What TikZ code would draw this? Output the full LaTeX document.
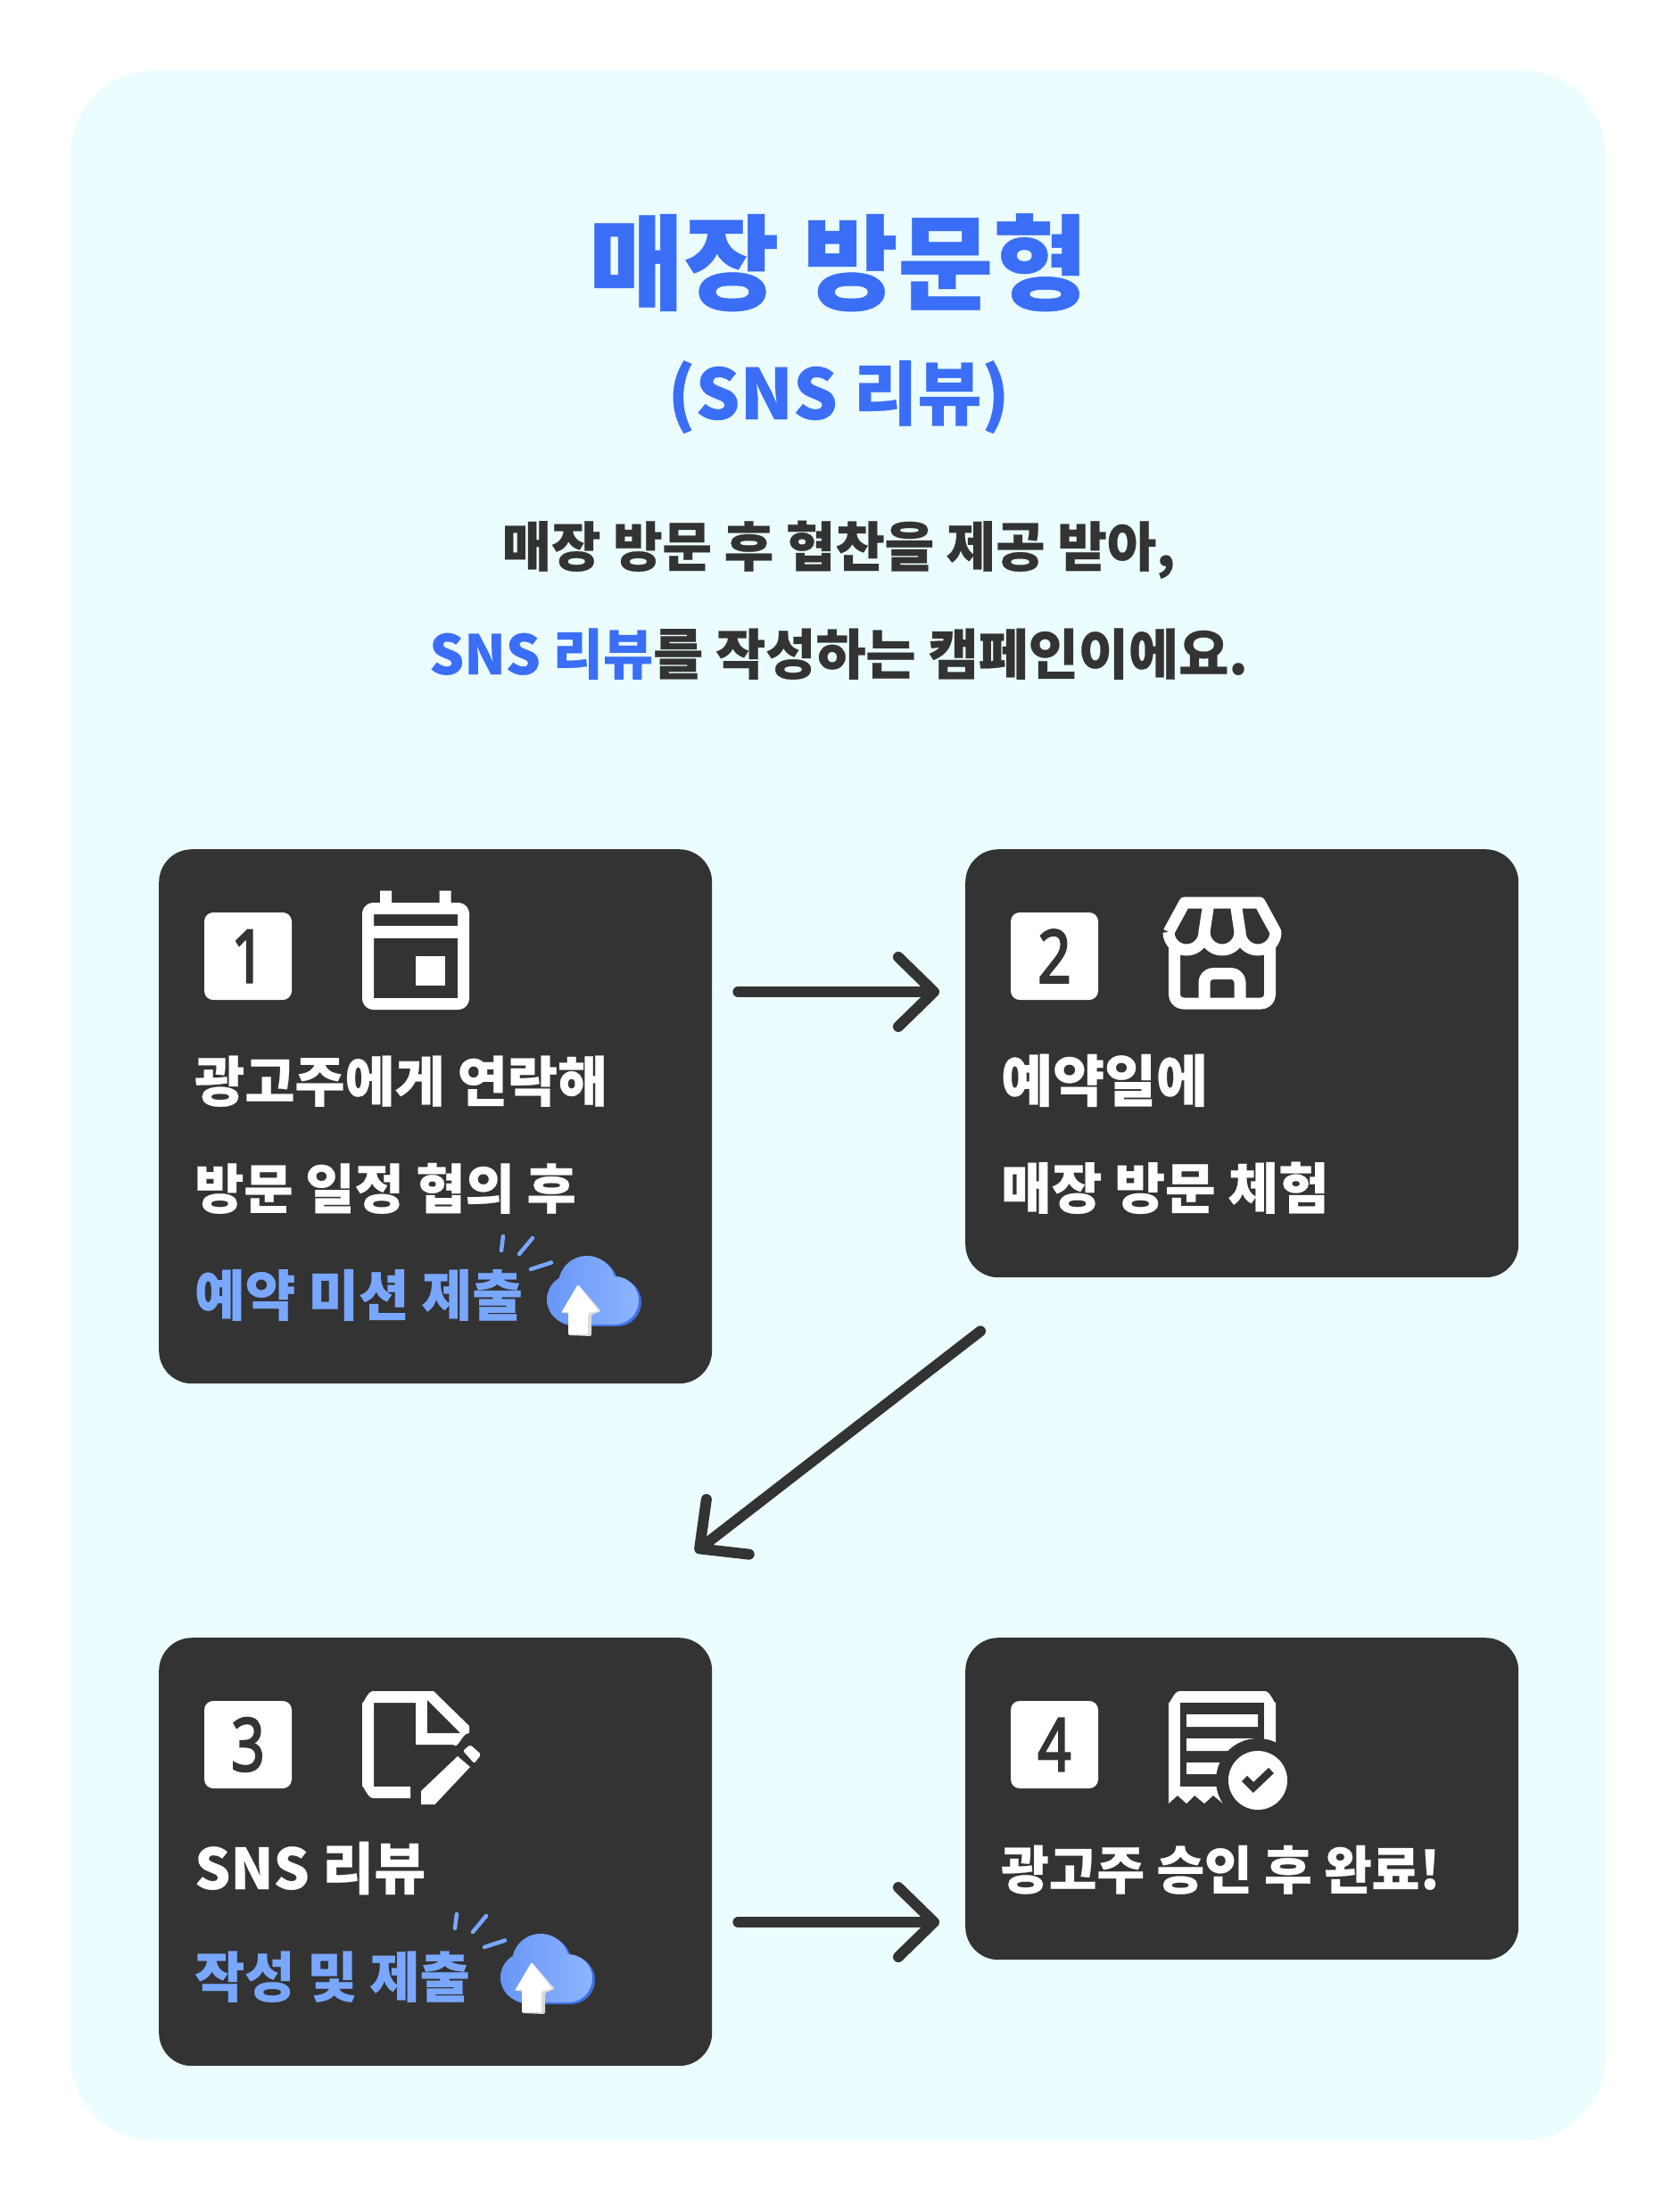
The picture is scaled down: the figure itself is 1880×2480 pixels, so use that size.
\documentclass[tikz,border=0pt]{standalone}
\usepackage{fontspec}
\usetikzlibrary{arrows.meta,calc}
\newfontfamily\krblack[FakeBold=0.4]{Noto Sans CJK KR Black}
\newfontfamily\numfont[FakeBold=3]{Noto Sans}
\definecolor{panelbg}{HTML}{EBFDFF}
\definecolor{cardbg}{HTML}{333333}
\definecolor{titleblue}{HTML}{3A6EF6}
\definecolor{softblue}{HTML}{79A7FF}
\definecolor{clouddark}{HTML}{3F6FE2}
\newcommand{\fs}[1]{\fontsize{#1}{#1}\selectfont}
\newcommand{\numglyph}[1]{\scalebox{0.8}[1]{#1}}
\tikzset{
  cardbox/.style={draw=none,fill=cardbg,rounded corners=37pt,inner sep=0pt,anchor=north west},
  tilebox/.style={fill=white,rounded corners=10pt,minimum width=98pt,minimum height=98pt,inner sep=0pt,text=cardbg,font=\numfont\fs{82}},
  bodytext/.style={anchor=base west,inner sep=0pt,text=white,font=\krblack\fs{60}},
  softtext/.style={bodytext,text=softblue},
  headtext/.style={anchor=base,inner sep=0pt,font=\krblack},
  flow/.style={draw=cardbg,line width=12pt,line cap=round,line join=round,-{Straight Barb[length=40pt,width=78pt,round]}},
  iconline/.style={draw=white,line width=13pt,line join=round},
  iconfill/.style={fill=white,draw=none},
  cloudicon/.pic={
    \draw[softblue,line width=4.5pt,line cap=round] (564,1386)--(562,1402) (597,1388)--(582,1406) (618,1415.5)--(595,1423);
    \fill[clouddark,shift={(3,2)}] (641,1457) circle[radius=28] (658,1440) circle[radius=32] (689,1458) circle[radius=27] (641,1455) -- (689,1455) -- (689,1485) -- (641,1485) -- cycle;
    \path[left color=softblue!70!clouddark,right color=softblue!85!white] (641,1457) circle[radius=28] (658,1440) circle[radius=32] (689,1458) circle[radius=27] (641,1455) -- (689,1455) -- (689,1485) -- (641,1485) -- cycle;
    \fill[black!14,rounded corners=2pt] (629,1472) -- (648,1440) -- (674,1470) -- (663,1474) -- (663,1498) -- (637,1497) -- (637,1472) -- cycle;
    \fill[white,rounded corners=2pt] (629,1472) -- (648,1440) -- (671,1470) -- (659,1472) -- (659,1496) -- (637,1496) -- (637,1470) -- cycle;
  }
}
\begin{document}
\begin{tikzpicture}[x=1pt,y=-1pt]
\useasboundingbox (0,0) rectangle (1880,2480);
\fill[white] (0,0) rectangle (1880,2480);
\fill[panelbg,rounded corners=95pt] (79,79) rectangle (1800,2400);

% headings
\node[headtext,text=titleblue,font=\krblack\fs{116}] (title) at (940,338) {매장 방문형};
\node[headtext,text=titleblue,font=\krblack\fs{78}] (subtitle) at (940,470) {(SNS 리뷰)};
\node[headtext,text=cardbg,font=\krblack\fs{60.2}] (intro1) at (940,635) {매장 방문 후 협찬을 제공 받아,};
\node[headtext,text=cardbg,font=\krblack\fs{61}] (intro2) at (940,756) {\textcolor{titleblue}{SNS 리뷰}를 작성하는 캠페인이에요.};

% cards
\node[cardbox,minimum width=620pt,minimum height=599pt] (card1) at (178,952) {};
\node[cardbox,minimum width=620pt,minimum height=480pt] (card2) at (1082,952) {};
\node[cardbox,minimum width=620pt,minimum height=480pt] (card3) at (178,1836) {};
\node[cardbox,minimum width=620pt,minimum height=361pt] (card4) at (1082,1836) {};

% number tiles
\node[tilebox] (tile1) at (278,1072) {\numglyph{1}};
\node[tilebox] (tile2) at (1182,1072) {\numglyph{2}};
\node[tilebox] (tile3) at (278,1956) {\numglyph{3}};
\node[tilebox] (tile4) at (1182,1956) {\numglyph{4}};

% texts
\node[bodytext,font=\krblack\fs{61}] (t1a) at (218,1235) {광고주에게 연락해};
\node[bodytext] (t1b) at (218,1355) {방문 일정 협의 후};
\node[softtext,font=\krblack\fs{61.5}] (t1c) at (218,1475) {예약 미션 제출};
\node[bodytext,font=\krblack\fs{63}] (t2a) at (1122,1235) {예약일에};
\node[bodytext,font=\krblack\fs{61.5}] (t2b) at (1122,1355) {매장 방문 체험};
\node[bodytext,font=\krblack\fs{63}] (t3a) at (218,2118) {SNS 리뷰};
\node[softtext,font=\krblack\fs{61}] (t3b) at (218,2239) {작성 및 제출};
\node[bodytext,font=\krblack\fs{58.3}] (t4a) at (1122,2118) {광고주 승인 후 완료!};

% calendar icon
\draw[iconline,rounded corners=6pt] (412.5,1018.5) rectangle (519.5,1125.5);
\fill[white] (406,1038) rectangle (526,1051.5);
\fill[white] (426,998.5) rectangle (439,1014) (492.5,998.5) rectangle (505.5,1014);
\fill[white] (466,1072) rectangle (499,1105);

% store icon
\draw[iconline] (1310,1045) -- (1328,1012) -- (1412,1012) -- (1430,1045)
  arc[start angle=0,end angle=180,radius=20]
  arc[start angle=0,end angle=180,radius=20]
  arc[start angle=0,end angle=180,radius=20];
\draw[iconline] (1355,1012) -- (1350,1045) (1385,1012) -- (1390,1045);
\draw[iconline,rounded corners=10pt] (1316.5,1058) -- (1316.5,1125) -- (1423.5,1125) -- (1423.5,1058);
\draw[iconline,rounded corners=10pt] (1350,1125) -- (1350,1091.5) -- (1390,1091.5) -- (1390,1125);

% document icon
\fill[white] (460,2016) -- (418,2016) to[out=180,in=90] (406,2004) -- (406,1908) to[out=-90,in=180] (418,1896)
  -- (486,1896) -- (526,1935) -- (526,1943) to[out=180,in=-50] (508,1956) -- (466,1956) -- (466,1909) -- (419,1909) -- (419,2003) -- (460,2003) -- cycle;
\fill[cardbg] (479,1906) -- (479,1943) -- (516,1943) -- cycle;
\fill[white] (472,2023) -- (472,2008) -- (513,1969) -- (527,1981) -- (487.5,2023) -- cycle;
\fill[white,rounded corners=2pt] (527,1956) -- (539.4,1967) -- (531.6,1977) -- (519,1963) -- cycle;

% receipt icon
\fill[white] (1310,2022) -- (1320,2013) -- (1330,2022) -- (1339,2013) -- (1350,2022) -- (1360,2013) -- (1371,2022)
  -- (1400,2010) -- (1430,1990) -- (1430,1908) to[out=-90,in=0] (1418,1896) -- (1322,1896) to[out=180,in=-90] (1310,1908) -- cycle;
\fill[cardbg] (1323,1909) rectangle (1417,2003);
\fill[white] (1330,1922) rectangle (1410,1936) (1330,1949) rectangle (1410,1963) (1330,1976) rectangle (1400,1989);
\fill[cardbg] (1410,1996) circle[radius=47];
\fill[white] (1410,1996) circle[radius=33];
\draw[cardbg,line width=8.5pt] (1395,1994) -- (1405,2004) -- (1425,1985);

% cloud stickers
\pic at (0,0) {cloudicon};
\pic at (-52,760) {cloudicon};

% connectors
\draw[flow] ($(card1.north east)+(29,160)$) -- ($(card2.north west)+(-29,160)$);
\draw[flow] ($(card2.south west)+(17,60)$) -- ($(card3.north east)+(-19,-96)$);
\draw[flow] ($(card3.north east)+(29,319)$) -- ($(card4.north west)+(-29,319)$);
\end{tikzpicture}
\end{document}
